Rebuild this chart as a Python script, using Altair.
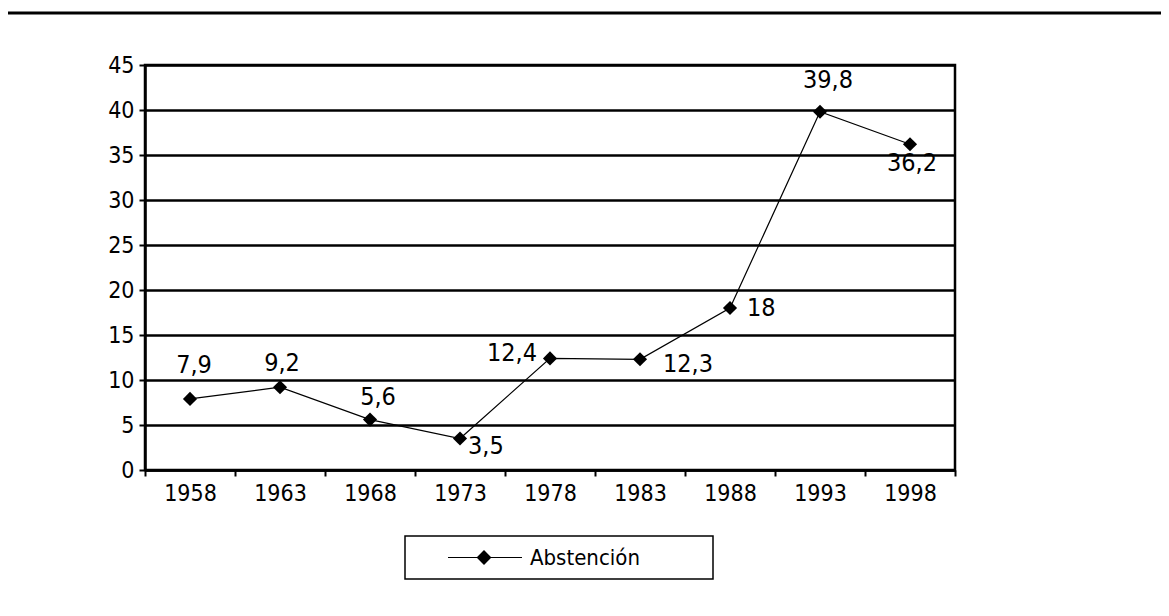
import altair as alt
import pandas as pd

years = ["1958", "1963", "1968", "1973", "1978", "1983", "1988", "1993", "1998"]
values = [7.9, 9.2, 5.6, 3.5, 12.4, 12.3, 18.0, 39.8, 36.2]
labels = ["7,9", "9,2", "5,6", "3,5", "12,4", "12,3", "18", "39,8", "36,2"]
series_name = ["Abstención"]

df = pd.DataFrame({"year": years, "value": values, "label": labels})

FONT = "Liberation Sans Narrow, DejaVu Sans Condensed, Arial Narrow, sans-serif"
W, H = 810, 405

# label placement (dx, dy, align) per year
label_style = {
    "1958": (4, -34, "center"),
    "1963": (2, -24, "center"),
    "1968": (8, -23, "center"),
    "1973": (8, 7, "left"),
    "1978": (-13, -5, "right"),
    "1983": (23, 5, "left"),
    "1988": (17, 0, "left"),
    "1993": (8, -32, "center"),
    "1998": (2, 19, "center"),
}

x_enc = alt.X(
    "year:O",
    sort=years,
    title=None,
    scale=alt.Scale(type="band", paddingInner=0, paddingOuter=0),
    axis=alt.Axis(
        tickBand="extent", labelAngle=0, labelFont=FONT, labelFontSize=23,
        labelColor="black", tickColor="black", tickWidth=2, tickSize=6,
        domainColor="black", domainWidth=2.5, labelPadding=6, grid=False,
    ),
)
y_enc = alt.Y(
    "value:Q",
    title=None,
    scale=alt.Scale(domain=[0, 45], nice=False),
    axis=alt.Axis(
        values=list(range(0, 50, 5)), labelFont=FONT, labelFontSize=23,
        labelColor="black", tickColor="black", tickWidth=2, tickSize=6,
        domainColor="black", domainWidth=2.5, labelPadding=5,
        grid=True, gridColor="black", gridWidth=2.7, gridOpacity=1,
    ),
)

base = alt.Chart(df)
line = base.mark_line(color="black", strokeWidth=1.2).encode(x=x_enc, y=y_enc)
pts = base.mark_point(shape="diamond", filled=True, color="black", size=200, opacity=1).encode(
    x=alt.X("year:O", sort=years), y="value:Q"
)

text_layers = []
for yr, (dx, dy, al) in label_style.items():
    text_layers.append(
        base.transform_filter(alt.datum.year == yr)
        .mark_text(font=FONT, fontSize=25, color="black", dx=dx, dy=dy, align=al, baseline="middle")
        .encode(x=alt.X("year:O", sort=years), y="value:Q", text="label:N")
    )

# decorations: top rule and manual legend box
deco = pd.DataFrame({"name": series_name})
top_rule = alt.Chart(deco).mark_rule(color="black", strokeWidth=3).encode(
    x=alt.value(-140), x2=alt.value(1020), y=alt.value(-52)
)
leg_box = alt.Chart(deco).mark_rect(fill="white", stroke="black", strokeWidth=1.5).encode(
    x=alt.value(260), x2=alt.value(568), y=alt.value(471), y2=alt.value(514)
)
leg_line = alt.Chart(deco).mark_rule(color="black", strokeWidth=1.2).encode(
    x=alt.value(303), x2=alt.value(377), y=alt.value(492.5)
)
leg_pt = alt.Chart(deco).mark_point(shape="diamond", filled=True, color="black", size=220, opacity=1).encode(
    x=alt.value(339), y=alt.value(492.5)
)
leg_txt = alt.Chart(deco).mark_text(font=FONT, fontSize=22, color="black", align="left", baseline="middle").encode(
    x=alt.value(385), y=alt.value(493), text="name:N"
)

chart = alt.layer(
    line, pts, *text_layers, top_rule, leg_box, leg_line, leg_pt, leg_txt
).properties(
    width=W, height=H,
    autosize=alt.AutoSizeParams(type="none"),
    padding={"left": 137, "top": 57, "right": 206, "bottom": 130},
).configure_view(stroke="black", strokeWidth=2.5)

chart.save("out.html", embed_options={"renderer": "svg", "actions": False})
